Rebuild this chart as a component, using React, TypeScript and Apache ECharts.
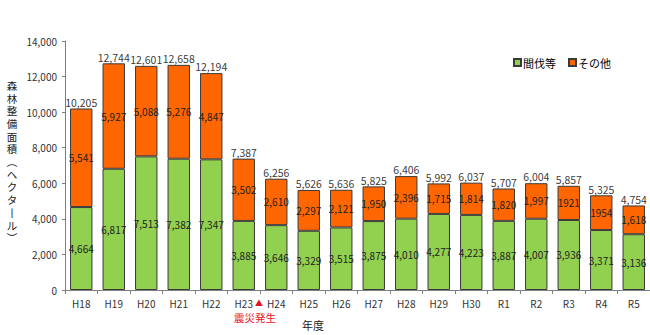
import React, { useEffect, useRef } from "react";
import * as echarts from "echarts";

const categories = ["H18","H19","H20","H21","H22","H23","H24","H25","H26","H27","H28","H29","H30","R1","R2","R3","R4","R5"];
const thinningValues = [4664,6817,7513,7382,7347,3885,3646,3329,3515,3875,4010,4277,4223,3887,4007,3936,3371,3136];
const otherValues = [5541,5927,5088,5276,4847,3502,2610,2297,2121,1950,2396,1715,1814,1820,1997,1921,1954,1618];
const otherLabels = ["5,541","5,927","5,088","5,276","4,847","3,502","2,610","2,297","2,121","1,950","2,396","1,715","1,814","1,820","1,997","1921","1954","1,618"];
const totalValues = [10205,12744,12601,12658,12194,7387,6256,5626,5636,5825,6406,5992,6037,5707,6004,5857,5325,4754];
const yTicks = { min: 0, max: 14000, interval: 2000 };

const seriesNames = ["間伐等", "その他"];
const yTitle = ["森","林","整","備","面","積","︵","ヘ","ク","タ","丨","ル","︶"].join("\n");

const FONT = "'Noto Sans CJK JP', 'Noto Sans', sans-serif";
const fmt = (v: number) => v.toLocaleString("en-US");

export default function App() {
  const ref = useRef<HTMLDivElement>(null);
  useEffect(() => {
    if (!ref.current) return;
    const chart = echarts.init(ref.current, null, { renderer: "svg" });
    const border = { borderColor: "#3a3a3a", borderWidth: 1 };
    const inLabel = { show: true, position: "inside" as const, fontSize: 10, color: "#222", fontFamily: FONT };
    chart.setOption({
      animation: false,
      textStyle: { fontFamily: FONT },
      grid: { left: 65, top: 41, width: 586, height: 249, containLabel: false },
      legend: {
        data: seriesNames,
        left: 508,
        top: 52,
        icon: "rect",
        itemWidth: 7,
        itemHeight: 7,
        itemGap: 12,
        textStyle: { fontSize: 11, color: "#000", fontFamily: FONT, padding: [0, 0, 0, -3] },
      },
      xAxis: {
        type: "category",
        data: categories,
        axisLine: { lineStyle: { color: "#7f7f7f" } },
        axisTick: { show: true, length: 4, lineStyle: { color: "#7f7f7f" } },
        axisLabel: { fontSize: 10, color: "#333", margin: 8, fontFamily: FONT },
      },
      yAxis: {
        type: "value",
        min: yTicks.min,
        max: yTicks.max,
        interval: yTicks.interval,
        splitLine: { show: false },
        axisLine: { show: true, lineStyle: { color: "#7f7f7f" } },
        axisTick: { show: true, length: 3, lineStyle: { color: "#7f7f7f" } },
        axisLabel: { fontSize: 10, color: "#333", margin: 8, formatter: (v: number) => fmt(v), fontFamily: FONT },
      },
      series: [
        {
          name: seriesNames[0],
          type: "bar",
          stack: "a",
          barWidth: "69%",
          data: thinningValues,
          itemStyle: { color: "#92D050", ...border },
          label: { ...inLabel, formatter: (p: any) => fmt(p.value) },
        },
        {
          name: seriesNames[1],
          type: "bar",
          stack: "a",
          data: otherValues,
          itemStyle: { color: "#FF6600", ...border },
          label: { ...inLabel, formatter: (p: any) => otherLabels[p.dataIndex] },
        },
        {
          name: "total",
          type: "scatter",
          data: totalValues,
          symbolSize: 0,
          silent: true,
          label: {
            show: true,
            position: "top",
            distance: 1,
            fontSize: 10.5,
            color: "#000",
            fontFamily: FONT,
            formatter: (p: any) => fmt(p.value),
          },
        },
      ],
      graphic: [
        {
          type: "text",
          x: 12,
          y: 79,
          style: { text: yTitle, fill: "#222", font: `10.5px ${FONT}`, lineHeight: 12.7, align: "center", verticalAlign: "top" },
        },
        {
          type: "text",
          x: 259,
          y: 302,
          style: { text: "▲", fill: "#e8101c", font: `8px ${FONT}`, align: "center", verticalAlign: "middle" },
        },
        {
          type: "text",
          x: 255,
          y: 317,
          style: { text: "震災発生", fill: "#e8101c", font: `10.5px ${FONT}`, align: "center", verticalAlign: "middle" },
        },
        {
          type: "text",
          x: 313,
          y: 325,
          style: { text: "年度", fill: "#222", font: `11px ${FONT}`, align: "center", verticalAlign: "middle" },
        },
      ],
    });
    return () => chart.dispose();
  }, []);
  return <div ref={ref} style={{ position: "fixed", left: 0, top: 0, width: 650, height: 335, background: "#fff" }} />;
}
